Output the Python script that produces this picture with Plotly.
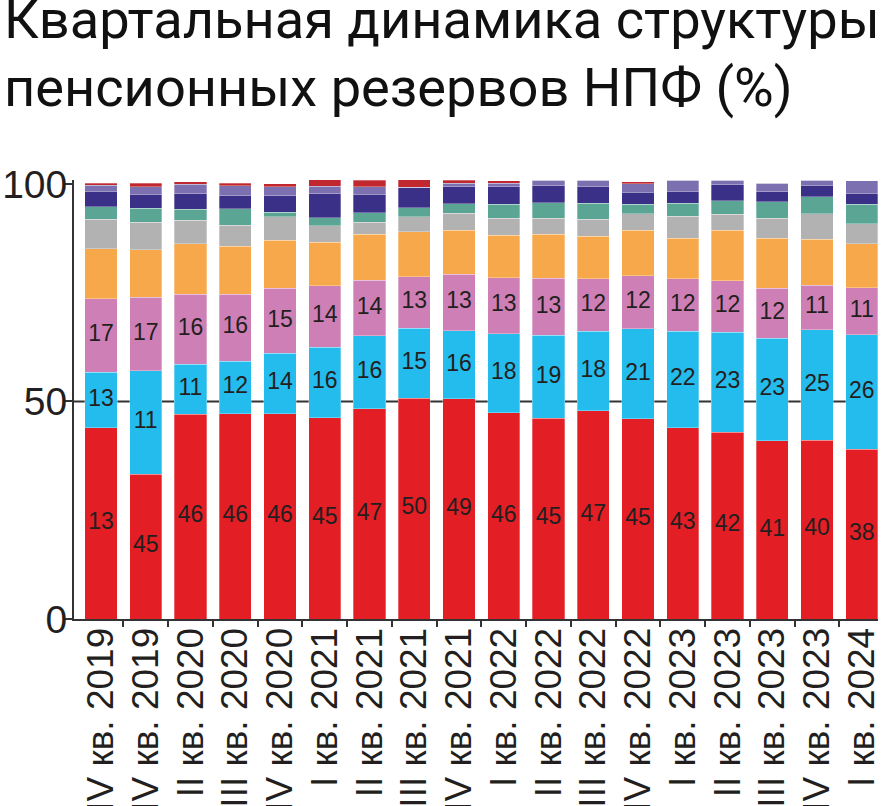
import numpy as np
import plotly.graph_objects as go

# ---- data ----
quarters = ["IV кв. 2019", "IV кв. 2019", "II кв. 2020", "III кв. 2020", "IV кв. 2020",
            "I кв. 2021", "II кв. 2021", "III кв. 2021", "IV кв. 2021",
            "I кв. 2022", "II кв. 2022", "III кв. 2022", "IV кв. 2022",
            "I кв. 2023", "II кв. 2023", "III кв. 2023", "IV кв. 2023", "I кв. 2024"]

s_red      = [44.0, 33.3, 47.1, 47.2, 47.2, 46.2, 48.3, 50.7, 50.6, 47.4, 46.1, 47.9, 46.0, 44.0, 42.9, 41.0, 41.1, 39.0]
s_cyan     = [12.7, 23.8, 11.4, 12.1, 13.9, 16.3, 16.8, 16.1, 15.6, 18.2, 19.1, 18.2, 20.7, 22.1, 23.0, 23.5, 25.4, 26.3]
s_pink     = [16.9, 16.9, 16.1, 15.3, 14.9, 14.1, 12.8, 11.9, 13.0, 12.8, 13.1, 12.1, 12.2, 12.1, 11.9, 11.5, 10.2, 10.8]
s_orange   = [11.5, 10.9, 11.6, 11.1, 11.0, 10.0, 10.5, 10.3, 10.2, 9.8, 10.1, 9.8, 10.4, 9.3, 11.5, 11.5, 10.6, 10.2]
s_gray     = [6.8, 6.3, 5.5, 4.8, 5.5, 3.8, 2.8, 3.4, 3.9, 3.9, 3.7, 3.9, 3.8, 5.1, 3.7, 4.6, 5.8, 4.6]
s_green    = [2.8, 3.2, 2.5, 3.8, 1.0, 1.8, 2.2, 2.1, 2.1, 3.2, 3.6, 3.6, 2.2, 2.9, 3.1, 3.8, 4.0, 4.4]
s_navy     = [3.6, 3.2, 3.5, 3.1, 3.8, 5.5, 4.2, 4.7, 4.0, 4.0, 3.9, 3.8, 2.8, 2.8, 3.7, 2.3, 2.6, 2.5]
s_lavender = [1.4, 1.8, 2.2, 2.2, 2.0, 1.8, 1.8, 0.0, 0.8, 0.8, 1.3, 1.5, 1.9, 2.5, 1.1, 1.9, 1.2, 2.9]
s_darkred  = [0.5, 0.8, 0.6, 0.5, 0.7, 1.6, 1.5, 1.8, 0.6, 0.6, 0.0, 0.0, 0.5, 0.0, 0.0, 0.0, 0.0, 0.0]

lbl_red  = ["13", "45", "46", "46", "46", "45", "47", "50", "49", "46", "45", "47", "45", "43", "42", "41", "40", "38"]
lbl_cyan = ["13", "11", "11", "12", "14", "16", "16", "15", "16", "18", "19", "18", "21", "22", "23", "23", "25", "26"]
lbl_pink = ["17", "17", "16", "16", "15", "14", "14", "13", "13", "13", "13", "12", "12", "12", "12", "12", "11", "11"]

y_ticks = [0, 50, 100]

title_lines = ["Квартальная динамика структуры", "пенсионных резервов НПФ (%)"]

series = [
    ("Серия 1", s_red, "#e31e24"),
    ("Серия 2", s_cyan, "#24bbed"),
    ("Серия 3", s_pink, "#ce80b6"),
    ("Серия 4", s_orange, "#f6a84a"),
    ("Серия 5", s_gray, "#b2b2b2"),
    ("Серия 6", s_green, "#5ba594"),
    ("Серия 7", s_navy, "#3a3087"),
    ("Серия 8", s_lavender, "#7d70b0"),
    ("Серия 9", s_darkred, "#c1272f"),
]

FONT = "Liberation Sans, Arial, sans-serif"
TITLE_FONT = "Roboto, Liberation Sans, Arial, sans-serif"
TXT = "#231f20"
x = list(range(len(quarters)))

fig = go.Figure()
for name, vals, col in series:
    fig.add_trace(go.Bar(x=x, y=vals, name=name, width=0.72,
                         marker=dict(color=col, line=dict(width=0.6, color="rgba(255,255,255,0.5)")),
                         hoverinfo="skip"))

red = np.array(s_red)
cyan = np.array(s_cyan)
pink = np.array(s_pink)
for lbls, ypos in [(lbl_red, red / 2),
                   (lbl_cyan, red + cyan / 2),
                   (lbl_pink, red + cyan + pink / 2)]:
    fig.add_trace(go.Scatter(x=x, y=ypos, mode="text", text=lbls,
                             textfont=dict(family=FONT, size=23, color=TXT),
                             textposition="middle center", hoverinfo="skip", showlegend=False))

fig.add_shape(type="line", xref="paper", x0=0, x1=1, yref="y", y0=50, y1=50,
              line=dict(color="#333333", width=2), layer="below")

for line_text, ypaper in zip(title_lines, [1.3651, 1.2103]):
    fig.add_annotation(text=line_text, xref="paper", yref="paper", align="left",
                       x=-0.0896, y=ypaper, xanchor="left", yanchor="middle", showarrow=False,
                       font=dict(family=TITLE_FONT, size=54.2, color="#111111"))

fig.update_layout(
    width=886, height=806,
    margin=dict(l=74, r=8, t=180, b=187, autoexpand=False),
    barmode="stack",
    showlegend=False,
    paper_bgcolor="white", plot_bgcolor="white",
    font=dict(family=FONT, color=TXT),
    xaxis=dict(range=[-0.603, 17.363], tickmode="array", tickvals=x, ticktext=quarters,
               tickangle=-90, ticks="", tickfont=dict(size=37, color=TXT, family=FONT),
               automargin=False, ticklabelstandoff=-8,
               showgrid=False, zeroline=False, showline=True, linecolor="#333333", linewidth=2,
               minor=dict(tickmode="array", tickvals=[i + 0.5 for i in range(len(quarters) - 1)],
                          ticks="outside", ticklen=6, tickwidth=2, tickcolor="#333333", showgrid=False)),
    yaxis=dict(range=[0, 100.9], tickmode="array", tickvals=y_ticks,
               ticks="outside", ticklen=7, tickwidth=2, tickcolor="#333333",
               tickfont=dict(size=39, color=TXT, family=FONT), automargin=False,
               ticklabelstandoff=-10,
               showgrid=False, zeroline=False, showline=True, linecolor="#333333", linewidth=2),
)

fig.write_html("out.html", config={"displayModeBar": False},
               post_script="document.body.style.margin='0';")
